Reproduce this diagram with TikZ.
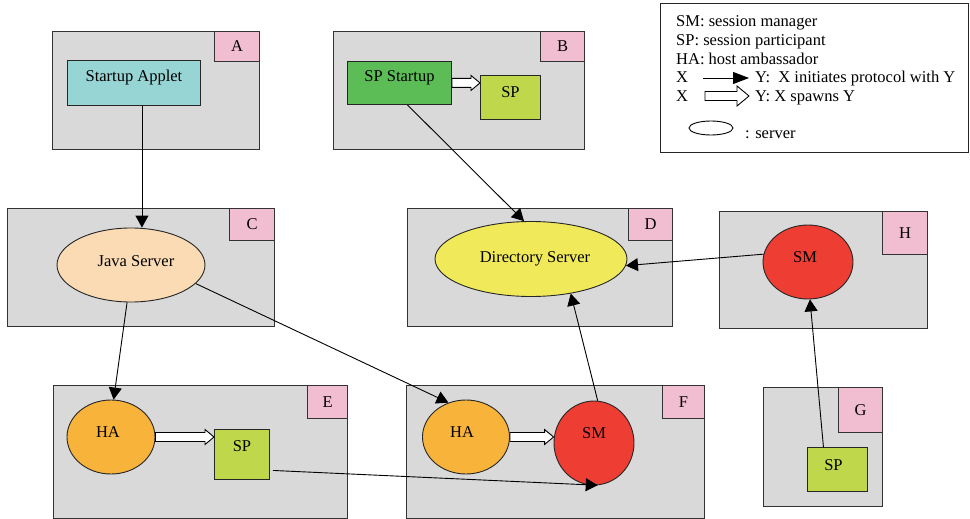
\documentclass[tikz,border=0pt]{standalone}
\usepackage{fontspec}
\setmainfont{Liberation Serif}
\usetikzlibrary{arrows.meta,calc,shapes.geometric}
\definecolor{cgray}{HTML}{D9D9D9}
\definecolor{cpink}{HTML}{F1BDD0}
\definecolor{capplet}{HTML}{97D5D5}
\definecolor{cspstart}{HTML}{5CBC55}
\definecolor{cspg}{HTML}{BFD74A}
\definecolor{cjava}{HTML}{FADBB4}
\definecolor{cdir}{HTML}{F0EA5A}
\definecolor{cha}{HTML}{F8B33B}
\definecolor{csm}{HTML}{EE3D33}
\newcommand\fs{\fontsize{16.5}{19}\selectfont}
% #1 start, #2 tip, #3 head half-height, #4 head length
\newcommand\spawnarr[4]{%
  \filldraw[spawnstyle] let \p1=(#1), \p2=(#2) in
    (\x1,\y1+4.5pt) -- (\x2-#4,\y1+4.5pt) -- (\x2-#4,\y1+#3) -- (\x2,\y1)
    -- (\x2-#4,\y1-#3) -- (\x2-#4,\y1-4.5pt) -- (\x1,\y1-4.5pt) -- cycle;}
\tikzset{
  region/.style={draw=black!80, line width=1.1pt, fill=cgray, anchor=north west, inner sep=0pt},
  tag/.style={draw=black!80, line width=1.1pt, fill=cpink, anchor=north east, inner sep=0pt, font=\fs},
  rbox/.style={draw=black!85, line width=0.9pt, anchor=north west, inner sep=0pt},
  oval/.style={draw=black!85, line width=0.9pt, ellipse, inner sep=0pt},
  conn/.style={line width=0.9pt, -{Triangle[length=12pt,width=13pt]}},
  spawnstyle/.style={draw=black, line width=0.9pt, fill=white},
  lgtext/.style={anchor=base west, inner sep=0pt, font=\fs},
}
\begin{document}
\begin{tikzpicture}[x=1pt,y=-1pt, every node/.style={font=\fs}]
\useasboundingbox (0,0) rectangle (970,519);
\fill[white] (0,0) rectangle (970,519);

% regions
\node[region, minimum width=207pt, minimum height=118pt] (A) at (52,31) {};
\node[tag, minimum width=45pt, minimum height=30pt] (tA) at (A.north east) {A};
\node[region, minimum width=251pt, minimum height=118pt] (B) at (333,31) {};
\node[tag, minimum width=44pt, minimum height=30pt] (tB) at (B.north east) {B};
\node[region, minimum width=267pt, minimum height=118pt] (C) at (7,208) {};
\node[tag, minimum width=45pt, minimum height=32pt] (tC) at (C.north east) {C};
\node[region, minimum width=265pt, minimum height=118pt] (D) at (407,208) {};
\node[tag, minimum width=44pt, minimum height=32pt] (tD) at (D.north east) {D};
\node[region, minimum width=208pt, minimum height=117pt] (H) at (719,211) {};
\node[tag, minimum width=45pt, minimum height=43pt] (tH) at (H.north east) {H};
\node[region, minimum width=294pt, minimum height=133pt] (E) at (53,385) {};
\node[tag, minimum width=40pt, minimum height=33pt] (tE) at (E.north east) {E};
\node[region, minimum width=298pt, minimum height=133pt] (F) at (406,385) {};
\node[tag, minimum width=42pt, minimum height=33pt] (tF) at (F.north east) {F};
\node[region, minimum width=119pt, minimum height=119pt] (G) at (763,387) {};
\node[tag, minimum width=44pt, minimum height=45pt] (tG) at (G.north east) {G};

% inner nodes
\node[rbox, fill=capplet, minimum width=133pt, minimum height=45pt,
  label={[yshift=5.5pt]center:Startup Applet}] (sa) at (67,60) {};
\node[rbox, fill=cspstart, minimum width=104pt, minimum height=43pt,
  label={[yshift=5.5pt]center:SP Startup}] (sps) at (347,61) {};
\node[rbox, fill=cspg, minimum width=60pt, minimum height=44pt,
  label={[yshift=5pt]center:SP}] (spb) at (480,75) {};
\node[oval, fill=cjava, minimum width=148pt, minimum height=74pt,
  label={[xshift=5pt,yshift=4pt]center:Java Server}] (java) at (131,265) {};
\node[oval, fill=cdir, minimum width=192pt, minimum height=75pt,
  label={[xshift=4pt]center:Directory Server}] (dir) at (531,259) {};
\node[oval, fill=csm, minimum width=90pt, minimum height=74pt,
  label={[xshift=-3pt,yshift=5pt]center:SM}] (smh) at (808,262) {};
\node[oval, fill=cha, minimum width=88pt, minimum height=74pt,
  label={[xshift=-3pt,yshift=5pt]center:HA}] (hae) at (111,437) {};
\node[rbox, fill=cspg, minimum width=55pt, minimum height=50pt,
  label={[yshift=8pt]center:SP}] (spe) at (214,429) {};
\node[oval, fill=cha, minimum width=87pt, minimum height=74pt,
  label={[xshift=-4pt,yshift=5pt]center:HA}] (haf) at (466,437) {};
\node[oval, fill=csm, minimum width=80pt, minimum height=84pt,
  label={[yshift=10pt]center:SM}] (smf) at (594,443) {};
\node[rbox, fill=cspg, minimum width=60pt, minimum height=44pt,
  label={[xshift=-4pt,yshift=4pt]center:SP}] (spg) at (807,447) {};

% spawn arrows
\spawnarr{sps.east}{sps.east -| spb.west}{7.5pt}{9pt}
\spawnarr{hae.east}{hae.east -| spe.west}{7.5pt}{9pt}
\spawnarr{haf.east}{haf.east -| smf.west}{7.5pt}{9pt}

% protocol arrows
\coordinate (sa1) at ($(sa.south)+(8,0)$);
\draw[conn] (sa1) -- (sa1 |- java.north);
\draw[conn] ($(sps.south)+(8,0)$) -- ($(dir.north)+(-7,0)$);
\draw[conn] (java.-16) -- (haf.117);
\draw[conn] (java.-96) -- (hae.86);
\draw[conn] ($(spe.east)+(3,16)$) -- (smf.-85);
\draw[conn] (smf.85) -- (dir.-41);
\draw[conn] (smh.170) -- (dir.-4);
\draw[conn] ($(spg.north)+(-14,0)$) -- (smh.-87);

% legend
\node[draw=black!85, line width=1pt, anchor=north west, inner sep=0pt,
  minimum width=308pt, minimum height=149pt] (leg) at (660,3) {};
\node[lgtext] (l1) at (676,27) {SM: session manager};
\node[lgtext] (l2) at (676,46) {SP: session participant};
\node[lgtext] (l3) at (676,64.5) {HA: host ambassador};
\node[lgtext] (l4) at (676,83) {X};
\coordinate (la1) at (703,78);
\coordinate (la2) at (749,78);
\draw[line width=0.9pt, -{Triangle[length=16pt,width=12pt]}] (la1) -- (la2);
\node[lgtext] (l4b) at (755,83) {Y:\ \ X initiates protocol with Y};
\node[lgtext] (l5) at (676,102) {X};
\coordinate (lb1) at (705,96);
\coordinate (lb2) at (749,96);
\spawnarr{lb1}{lb2}{10pt}{12pt}
\node[lgtext] (l5b) at (755,102) {Y: X spawns Y};
\node[draw=black, line width=0.9pt, ellipse, inner sep=0pt, minimum width=44pt,
  minimum height=14pt] (lsv) at (711,128) {};
\node[lgtext] (l6) at (745,138) {: server};
\end{tikzpicture}
\end{document}
